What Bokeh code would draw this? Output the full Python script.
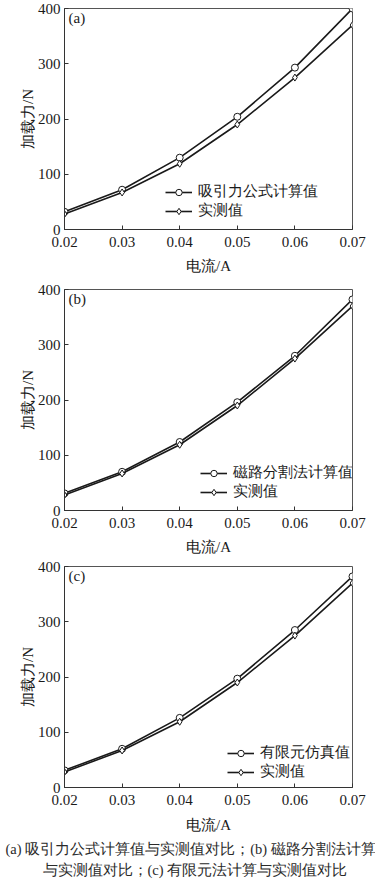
from bokeh.plotting import figure
from bokeh.layouts import column
from bokeh.models import FixedTicker, Legend, LegendItem, Label, Title
from bokeh.embed import file_html
from bokeh.resources import INLINE

current = [0.02, 0.03, 0.04, 0.05, 0.06, 0.07]
measured = [28, 67, 119, 190, 275, 370]
calc_a = [32, 72, 130, 204, 293, 400]
calc_b = [31, 70, 124, 196, 280, 382]
calc_c = [31, 70, 126, 197, 285, 382]
x_ticks = [0.02, 0.03, 0.04, 0.05, 0.06, 0.07]
y_ticks = [0, 100, 200, 300, 400]

panels = [
    ("(a)", calc_a, "吸引力公式计算值", (101, 9), 54, 8),
    ("(b)", calc_b, "磁路分割法计算值", (136, 9), 50, 6),
    ("(c)", calc_c, "有限元仿真值", (163, 6), 20, 6),
]
captions = ["(a) 吸引力公式计算值与实测值对比；(b) 磁路分割法计算",
            "与实测值对比；(c) 有限元法计算与实测值对比"]

FONT = "Liberation Serif"
INK = "#1a1a1a"

figs = []
for i, (tag, calc, name, loc, bottom, top) in enumerate(panels):
    last = i == 2
    p = figure(frame_width=288, frame_height=221, output_backend="svg",
               toolbar_location=None, x_range=(0.02, 0.07), y_range=(0, 400),
               min_border_left=64, min_border_right=23, min_border_top=top,
               min_border_bottom=bottom)
    p.grid.visible = False
    p.outline_line_color = "#555555"
    p.outline_line_width = 1
    p.background_fill_color = "white"
    p.border_fill_color = "white"
    p.xaxis.ticker = FixedTicker(ticks=x_ticks)
    p.yaxis.ticker = FixedTicker(ticks=y_ticks)
    for ax in (p.xaxis, p.yaxis):
        ax.major_tick_in = 4
        ax.major_tick_out = 0
        ax.minor_tick_line_color = None
        ax.axis_line_color = "#333333"
        ax.major_tick_line_color = "#333333"
        ax.major_label_text_font = FONT
        ax.major_label_text_font_size = "15px"
        ax.major_label_text_color = INK
        ax.axis_label_text_font = FONT
        ax.axis_label_text_font_size = "15px"
        ax.axis_label_text_font_style = "normal"
        ax.axis_label_text_color = INK
    p.xaxis.axis_label = "电流/A"
    p.yaxis.axis_label = "加载力/N"
    p.xaxis.major_label_standoff = 7
    p.xaxis.axis_label_standoff = 8 if not last else 9
    p.yaxis.major_label_standoff = 4
    p.yaxis.axis_label_standoff = -1

    l1 = p.line(current, calc, line_color=INK, line_width=1.6)
    s1 = p.scatter(current, calc, marker="circle", size=7, fill_color="white",
                   line_color=INK, line_width=1)
    l2 = p.line(current, measured, line_color=INK, line_width=1.6)
    s2 = p.scatter(current, measured, marker="diamond", size=7, fill_color="white",
                   line_color=INK, line_width=1)

    legend = Legend(items=[LegendItem(label=name, renderers=[l1, s1]),
                           LegendItem(label="实测值", renderers=[l2, s2])],
                    location=loc, border_line_color=None,
                    background_fill_alpha=0, padding=0, spacing=0, margin=0,
                    glyph_width=27, label_standoff=6, label_height=16,
                    glyph_height=16,
                    label_text_font=FONT, label_text_font_size="15px",
                    label_text_color=INK)
    p.add_layout(legend, "center")

    p.add_layout(Label(x=4, y=212, x_units="screen", y_units="screen",
                       text=tag, text_font=FONT, text_font_size="15px",
                       text_color=INK, text_baseline="middle"))
    if last:
        for j, cap in enumerate(captions):
            t = Title(text=cap, align="left", offset=-59 if j == 0 else -22,
                      text_font=FONT, text_font_size="14.5px",
                      text_font_style="normal", text_color="#2a2a2a",
                      standoff=6 if j == 0 else 1)
            p.add_layout(t, "below")
        p.add_layout(Title(text=" ", text_font_size="3px", standoff=0), "below")
    figs.append(p)

layout = column(*figs, spacing=0)
open("out.html", "w").write(file_html(layout, INLINE))
